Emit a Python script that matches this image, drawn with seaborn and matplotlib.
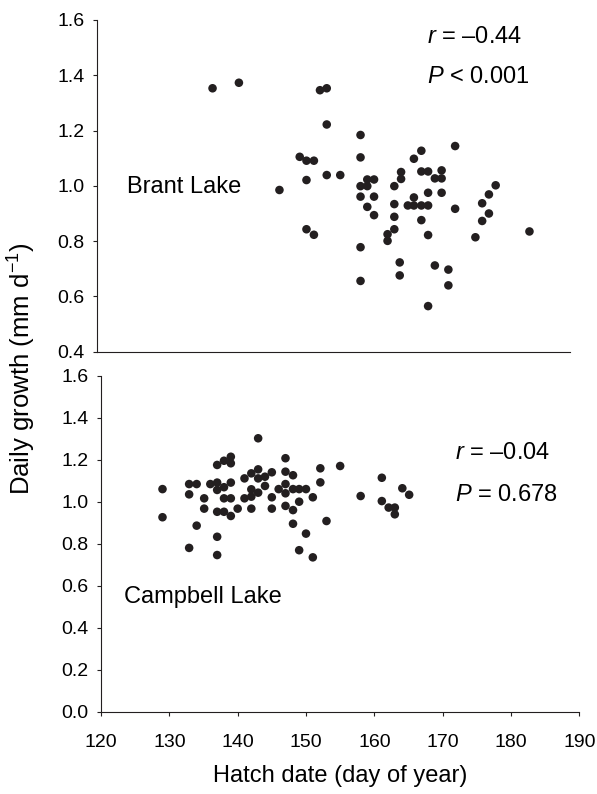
import pandas as pd
import seaborn as sns
import matplotlib.pyplot as plt

# ----------- data -----------
brant_day = [137.1, 141.0, 153.0, 154.0, 154.0,
             150.0, 151.0, 152.1, 151.0, 154.0, 156.0, 147.0,
             159.0, 159.0, 159.0, 160.0, 161.0, 160.0, 159.0, 161.0, 160.0, 164.0, 164.0,
             161.0, 164.0, 164.0, 163.0, 163.0, 151.0, 152.1, 159.0, 159.0, 164.8, 164.8,
             173.0, 168.0, 166.9, 165.0, 165.0, 168.0, 169.0, 171.0, 170.0, 171.0,
             169.0, 171.0, 166.9, 166.0, 166.9, 168.0, 169.0, 173.0, 179.0, 178.0,
             177.0, 178.0, 177.0, 176.0, 184.0, 168.0, 169.0, 170.0, 172.0, 172.0, 169.0]
brant_growth = [1.353, 1.373, 1.346, 1.353, 1.222,
                1.105, 1.091, 1.091, 1.021, 1.039, 1.039, 0.985,
                1.184, 1.103, 0.999, 1.023, 1.023, 0.999, 0.961, 0.961, 0.924, 0.999, 0.934,
                0.894, 0.888, 0.843, 0.825, 0.801, 0.843, 0.823, 0.778, 0.656, 0.723, 0.676,
                1.144, 1.127, 1.098, 1.050, 1.025, 1.052, 1.052, 1.056, 1.027, 1.027,
                0.975, 0.975, 0.958, 0.929, 0.929, 0.929, 0.929, 0.917, 1.002, 0.969,
                0.937, 0.900, 0.873, 0.814, 0.835, 0.876, 0.822, 0.712, 0.697, 0.640, 0.565]

campbell_day = [129.0, 129.0,
                132.9, 132.9, 134.0, 132.9, 134.0,
                135.1, 135.1,
                136.0, 137.0, 137.0, 138.0, 137.0, 138.0, 139.0, 139.0, 139.0,
                138.0, 139.0, 137.0, 138.0, 139.0, 137.0, 137.0,
                140.0, 141.0, 142.0, 143.0, 143.0, 144.0, 145.0, 143.0,
                141.0, 142.0, 142.0, 143.0, 142.0, 144.0, 145.0, 145.0,
                147.0, 147.0, 147.0, 147.0, 147.0, 146.0,
                148.1, 148.1, 149.0, 150.0, 152.1, 155.0, 152.1, 151.0, 149.0,
                148.1, 148.1, 153.0, 150.0, 149.0, 151.0,
                158.0, 161.1, 161.1, 162.1, 163.0, 163.0, 164.1, 165.1]
campbell_growth = [1.060, 0.926,
                   1.084, 1.035, 1.084, 0.780, 0.886,
                   1.016, 0.967,
                   1.084, 1.091, 1.056, 1.069, 1.175, 1.195, 1.214, 1.183, 1.091,
                   1.016, 1.016, 0.952, 0.952, 0.932, 0.833, 0.746,
                   0.967, 1.111, 1.135, 1.154, 1.111, 1.119, 1.140, 1.302,
                   1.016, 1.059, 1.024, 1.043, 0.967, 1.075, 1.021, 0.967,
                   1.207, 1.143, 1.084, 1.040, 0.980, 1.060,
                   1.126, 1.060, 1.060, 1.060, 1.159, 1.170, 1.092, 1.021, 1.000,
                   0.960, 0.895, 0.908, 0.848, 0.769, 0.735,
                   1.027, 1.114, 1.003, 0.972, 0.972, 0.940, 1.064, 1.033]

x_ticks = [120, 130, 140, 150, 160, 170, 180, 190]
top_yticks = [0.4, 0.6, 0.8, 1.0, 1.2, 1.4, 1.6]
bot_yticks = [0.0, 0.2, 0.4, 0.6, 0.8, 1.0, 1.2, 1.4, 1.6]

brant = pd.DataFrame({"day": brant_day, "growth": brant_growth})
campbell = pd.DataFrame({"day": campbell_day, "growth": campbell_growth})

sns.set_style("ticks")
plt.rcParams["font.family"] = ["Liberation Sans", "DejaVu Sans"]
plt.rcParams["mathtext.fontset"] = "custom"
plt.rcParams["mathtext.rm"] = "Liberation Sans"
plt.rcParams["mathtext.it"] = "Liberation Sans:italic"
plt.rcParams["text.color"] = "black"

dot_col = "#231f20"
line_col = "#231f20"
tick_fs = 14
txt_fs = 17

fig = plt.figure(figsize=(5.97, 7.94), dpi=100)
W, H = 597, 794
ax_top = fig.add_axes([97 / W, 1 - 351.7 / H, (570 - 97) / W, (351.7 - 20) / H])
ax_bot = fig.add_axes([101 / W, 1 - 711.7 / H, (579.3 - 101) / W, (711.7 - 375.7) / H])

for ax, df in [(ax_top, brant), (ax_bot, campbell)]:
    sns.scatterplot(data=df, x="day", y="growth", ax=ax, color=dot_col,
                    s=38, linewidth=0, edgecolor="none", clip_on=False, zorder=3)
    ax.set(xlabel="", ylabel="", xlim=(120, 190))
    for side in ["top", "right"]:
        ax.spines[side].set_visible(False)
    for side in ["left", "bottom"]:
        ax.spines[side].set_color(line_col)
        ax.spines[side].set_linewidth(0.8)
    ax.tick_params(axis="both", direction="out", length=3, width=0.8,
                   color=line_col, labelsize=tick_fs, labelcolor="black")
    ax.tick_params(axis="y", pad=6)

# top panel
ax_top.set_ylim(0.4, 1.6)
ax_top.set_yticks(top_yticks)
ax_top.set_yticklabels([f"{v:.1f}" for v in top_yticks])
ax_top.set_xticks([])
ax_top.text(124.5, 0.997, "Brant Lake", fontsize=txt_fs, ha="left", va="center")
ax_top.text(168.8, 1.538, "$r$ = \u20130.44", fontsize=txt_fs, ha="left", va="center")
ax_top.text(168.8, 1.393, "$P$ < 0.001", fontsize=txt_fs, ha="left", va="center")

# bottom panel
ax_bot.set_ylim(0.0, 1.6)
ax_bot.set_yticks(bot_yticks)
ax_bot.set_yticklabels([f"{v:.1f}" for v in bot_yticks])
ax_bot.set_xticks(x_ticks)
ax_bot.set_xticklabels([str(t) for t in x_ticks])
ax_bot.tick_params(axis="x", pad=13)
ax_bot.text(123.3, 0.546, "Campbell Lake", fontsize=txt_fs, ha="left", va="center")
ax_bot.text(171.8, 1.232, "$r$ = \u20130.04", fontsize=txt_fs, ha="left", va="center")
ax_bot.text(171.8, 1.032, "$P$ = 0.678", fontsize=txt_fs, ha="left", va="center")

fig.text(340 / W, 1 - 776 / H, "Hatch date (day of year)", fontsize=txt_fs,
         ha="center", va="center")
fig.text(22 / W, 1 - 369 / H, "Daily growth (mm d$^{\u22121}$)", fontsize=18.5,
         ha="center", va="center", rotation=90)

fig.savefig("out.png", dpi=100)
